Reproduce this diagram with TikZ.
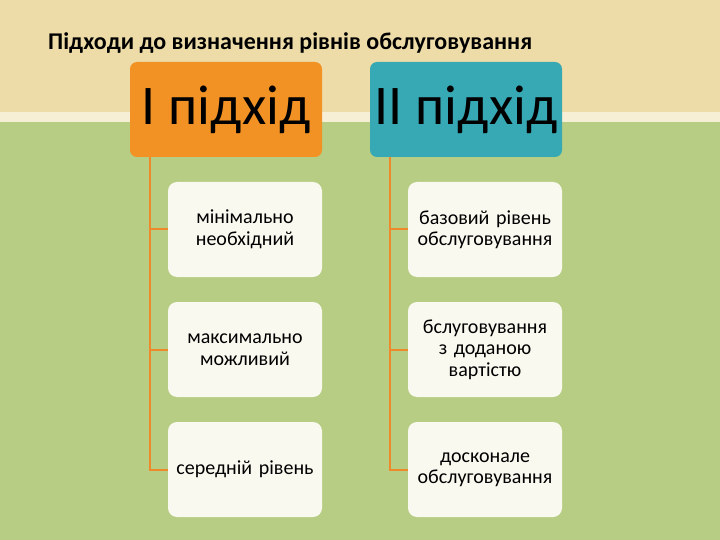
\documentclass[tikz,border=0pt]{standalone}
\usepackage{fontspec}
\setmainfont{Carlito}
\definecolor{beige}{HTML}{EDDCA8}
\definecolor{stripe}{HTML}{F6EFD6}
\definecolor{grn}{HTML}{B7CD84}
\definecolor{orangebox}{HTML}{F39224}
\definecolor{tealbox}{HTML}{36A9B4}
\definecolor{connc}{HTML}{EF8A2C}
\definecolor{boxwhite}{HTML}{FAF9F0}
\begin{document}
\begin{tikzpicture}[x=1pt,y=-1pt,
  head/.style={rounded corners=7pt, minimum width=192pt, minimum height=95pt, inner sep=0pt, font=\fontsize{56}{60}\selectfont},
  child/.style={fill=boxwhite, rounded corners=9pt, minimum width=154pt, minimum height=95pt, inner sep=2pt, text width=150pt, align=center, font=\fontsize{20}{21.5}\selectfont},
  conn/.style={draw=connc, line width=2pt}]
\useasboundingbox (0,0) rectangle (720,540);
% background
\fill[beige] (0,0) rectangle (720,116);
\fill[grn] (0,116) rectangle (720,540);
\fill[stripe] (0,112) rectangle (720,122);
% title
\node[anchor=west, inner sep=0pt, font=\bfseries\fontsize{24}{28}\selectfont] (title) at (48,43) {Підходи до визначення рівнів обслуговування};
% headers
\node[head, fill=orangebox] (h1) at (226,109.5) {I підхід};
\node[head, fill=tealbox] (h2) at (466,109.5) {II підхід};
% children
\node[child] (a1) at (245,229.5) {мінімально\\необхідний};
\node[child] (a2) at (245,349.5) {максимально\\можливий};
\node[child] (a3) at (245,469.5) {середній рівень};
\node[child] (b1) at (485,229.5) {базовий рівень\\обслуговування};
\node[child] (b2) at (485,349.5) {бслуговування\\з доданою\\вартістю};
\node[child] (b3) at (485,469.5) {досконале\\обслуговування};
% connectors
\draw[conn] (h1.south west) ++(20,0) coordinate (t1) |- (a3.west);
\draw[conn] (t1 |- a1.west) -- (a1.west);
\draw[conn] (t1 |- a2.west) -- (a2.west);
\draw[conn] (h2.south west) ++(20,0) coordinate (t2) |- (b3.west);
\draw[conn] (t2 |- b1.west) -- (b1.west);
\draw[conn] (t2 |- b2.west) -- (b2.west);
\end{tikzpicture}
\end{document}
